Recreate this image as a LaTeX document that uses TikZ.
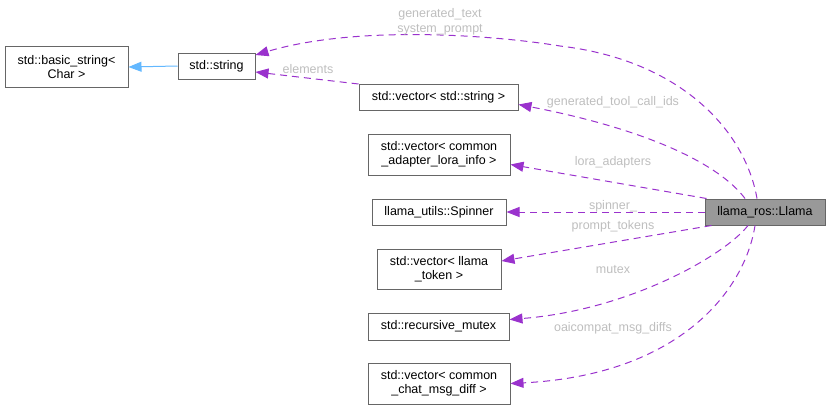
\documentclass[tikz,border=0pt]{standalone}
\usepackage{fontspec}
\setmainfont{Liberation Sans}
\usetikzlibrary{arrows.meta}
\definecolor{edgepurple}{HTML}{9A32CD}
\definecolor{inhblue}{HTML}{63B8FF}
\definecolor{boxborder}{HTML}{666666}
\definecolor{boxfill}{HTML}{999999}
\definecolor{lblgray}{HTML}{BEBEBE}
\begin{document}
\begin{tikzpicture}[x=1pt,y=-1pt,
  box/.style={draw=boxborder, fill=white, line width=1pt, inner sep=0pt, align=center,
    font=\fontsize{12.5}{14.5}\selectfont},
  mainbox/.style={box, fill=boxfill},
  usage/.style={draw=edgepurple, line width=1pt, dash pattern=on 7pt off 5pt,
    -{Triangle[length=13pt,width=10pt]}},
  inh/.style={draw=inhblue, line width=1pt, -{Triangle[length=13pt,width=10pt]}},
  lbl/.style={text=lblgray, inner sep=0pt, align=center, font=\fontsize{12.5}{15}\selectfont}
]
\useasboundingbox (0,0) rectangle (830,410);

\node[box, minimum width=123pt, minimum height=41pt] (bs) at (66.5,67) {std::basic\_string<\\Char >};
\node[box, minimum width=77pt, minimum height=26pt] (str) at (216.5,66) {std::string};
\node[box, minimum width=159pt, minimum height=26pt] (vstr) at (438.5,97.5) {std::vector< std::string >};
\node[box, minimum width=142pt, minimum height=41pt] (vlora) at (439,154.5) {std::vector< common\\\_adapter\_lora\_info >};
\node[box, minimum width=134pt, minimum height=26pt] (spin) at (439,212) {llama\_utils::Spinner};
\node[box, minimum width=124pt, minimum height=40pt] (vtok) at (439,269) {std::vector< llama\\\_token >};
\node[box, minimum width=141pt, minimum height=27pt] (mutex) at (438.5,326.5) {std::recursive\_mutex};
\node[box, minimum width=142pt, minimum height=41pt] (vdiff) at (439,383.5) {std::vector< common\\\_chat\_msg\_diff >};
\node[mainbox, minimum width=120pt, minimum height=26pt] (llama) at (765,212) {llama\_ros::Llama};

\draw[usage] ([xshift=-8pt]llama.north) .. controls (745,130) and (680,60) .. (560,46)
  .. controls (500,36) and (360,24) .. ([yshift=11pt]str.east);
\draw[usage] ([xshift=-20pt]llama.north) .. controls (720,165) and (650,130) .. ([yshift=-7pt]vstr.east);
\draw[usage] ([xshift=2pt]llama.north west) -- ([yshift=-10pt]vlora.east);
\draw[usage] (llama.west) -- (spin.east);
\draw[usage] ([xshift=7pt]llama.south west) -- ([yshift=8pt]vtok.east);
\draw[usage] ([xshift=-17pt]llama.south) .. controls (725,255) and (630,310) .. ([yshift=7pt]mutex.east);
\draw[usage] ([xshift=-10pt]llama.south) .. controls (745,290) and (680,375) .. (vdiff.east);
\draw[usage] (vstr.north west) -- ([yshift=-6pt]str.east);
\draw[inh] (str.west) -- (bs.east);

\node[lbl] (l1) at (440,21.5) {generated\_text\\system\_prompt};
\node[lbl] (l2) at (308,69) {elements};
\node[lbl] (l3) at (613,102) {generated\_tool\_call\_ids};
\node[lbl] (l4) at (613,162) {lora\_adapters};
\node[lbl] (l5) at (613,206) {spinner\_};
\node[lbl] (l6) at (613,226) {prompt\_tokens};
\node[lbl] (l7) at (613,270) {mutex};
\node[lbl] (l8) at (613,328) {oaicompat\_msg\_diffs};
\end{tikzpicture}
\end{document}
